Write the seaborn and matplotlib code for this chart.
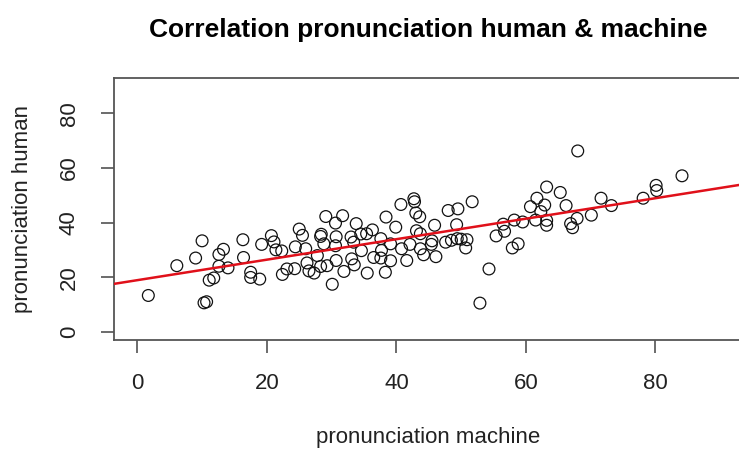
import matplotlib
matplotlib.use("Agg")
import matplotlib.pyplot as plt
import seaborn as sns
import pandas as pd

# ---- data ----
machine = [
    1.7, 6.1, 9.0, 10.0, 10.3, 10.7, 11.1, 11.8, 12.6, 13.3, 12.6, 14.0, 16.3, 16.4,
    17.5, 17.5, 18.9, 19.2, 20.7, 21.1, 21.4, 22.3, 22.4, 23.1, 24.3, 24.4, 25.0, 25.5,
    26.0, 26.2, 26.5, 27.3, 27.8, 28.3, 28.3, 28.4, 29.1, 28.8, 29.3, 30.1, 30.6, 30.7,
    30.6, 30.7, 31.7, 31.9, 33.0, 33.4, 33.1, 33.5, 33.8, 34.6, 34.5, 35.4, 36.3, 35.5,
    36.5, 37.7, 37.6, 37.6, 38.3, 38.4, 39.1, 39.1, 39.9, 40.7, 40.8, 41.6, 42.1, 42.7,
    42.8, 43.0, 43.6, 43.1, 43.7, 43.7, 44.2, 45.4, 45.5, 45.9, 46.1, 47.6, 48.0, 48.5,
    49.3, 49.4, 49.5, 50.0, 50.9, 50.7, 51.7, 52.9, 54.3, 55.4, 56.5, 56.7, 57.9, 58.8,
    58.2, 59.5, 60.7, 61.7, 61.5, 62.3, 62.9, 63.2, 63.2, 63.2, 65.3, 66.2, 66.9, 67.2,
    67.9, 68.0, 70.1, 71.6, 73.2, 78.1, 80.1, 80.2, 84.1,
]
human = [
    13.3, 24.2, 27.0, 33.3, 10.6, 11.0, 18.9, 19.7, 28.3, 30.2, 24.0, 23.4, 33.7, 27.2,
    21.8, 19.9, 19.3, 32.0, 35.2, 32.9, 30.0, 29.6, 21.0, 23.0, 23.1, 31.1, 37.6, 35.3,
    30.4, 25.2, 22.3, 21.5, 27.9, 23.9, 34.9, 35.7, 42.2, 32.2, 24.2, 17.4, 39.8, 34.8,
    31.5, 26.1, 42.5, 22.1, 34.7, 32.8, 26.7, 24.5, 39.6, 29.7, 35.8, 35.9, 37.3, 21.5,
    27.2, 29.8, 34.1, 27.0, 21.8, 42.0, 32.2, 26.0, 38.3, 46.6, 30.4, 26.1, 32.0, 48.7,
    47.6, 43.5, 42.1, 37.0, 35.9, 30.4, 28.2, 32.0, 33.3, 39.0, 27.5, 32.8, 44.4, 33.5,
    39.2, 34.1, 45.0, 33.9, 33.7, 30.7, 47.6, 10.5, 23.0, 35.1, 39.4, 36.8, 30.7, 32.2,
    40.9, 40.2, 45.8, 48.9, 40.9, 44.0, 46.4, 53.0, 39.0, 40.8, 51.0, 46.2, 39.6, 38.1,
    41.5, 66.2, 42.7, 48.9, 46.2, 48.9, 53.6, 51.7, 57.1,
]
fit_intercept = 18.9
fit_slope = 0.375
x_ticks = [0, 20, 40, 60, 80]
y_ticks = [0, 20, 40, 60, 80]

title = "Correlation pronunciation human & machine"
x_label = "pronunciation machine"
y_label = "pronunciation human"

df = pd.DataFrame({"machine": machine, "human": human})

sns.set_theme(style="white")
plt.rcParams["font.family"] = ["Liberation Sans", "DejaVu Sans"]

W, H = 739, 451
fig = plt.figure(figsize=(W / 100, H / 100), dpi=100)
left, right, top, bottom = 114, 739, 78, 340
ax = fig.add_axes([left / W, 1 - bottom / H, (right - left) / W, (bottom - top) / H])

sns.scatterplot(data=df, x="machine", y="human", ax=ax, marker="o", s=72,
                facecolor="none", edgecolor="#111111", linewidth=0.9, zorder=3)
ax.axline((0, fit_intercept), slope=fit_slope, color="#e0101a", lw=1.8, zorder=4)

ax.set_xlim(-3.6, 92.9)
ax.set_ylim(-3.0, 92.9)
ax.set_xticks(x_ticks)
ax.set_yticks(y_ticks)
ax.set_xticklabels([str(v) for v in x_ticks], fontsize=16, color="#222222")
ax.set_yticklabels([str(v) for v in y_ticks], fontsize=16, color="#222222",
                   rotation=90, va="center")
ax.tick_params(axis="both", direction="out", length=9.5, width=1.1, color="#444444",
               bottom=True, left=True)
ax.tick_params(axis="x", pad=14)
ax.tick_params(axis="y", pad=15)

for side in ["left", "bottom", "top"]:
    ax.spines[side].set_visible(True)
    ax.spines[side].set_color("#555555")
    ax.spines[side].set_linewidth(1.3)
ax.spines["right"].set_visible(False)

ax.set_xlabel("")
ax.set_ylabel("")
cx = (114 + 743) / 2 / W
fig.text(cx, 1 - 437 / H, x_label, ha="center", va="center", fontsize=16, color="#222222")
fig.text(23 / W, 1 - 209 / H, y_label, ha="center", va="center", rotation=90,
         fontsize=16, color="#222222")
fig.text(cx, 1 - 30 / H, title, ha="center", va="center", fontsize=19,
         fontweight="bold", color="black")

fig.savefig("out.png", dpi=100, facecolor="white")
